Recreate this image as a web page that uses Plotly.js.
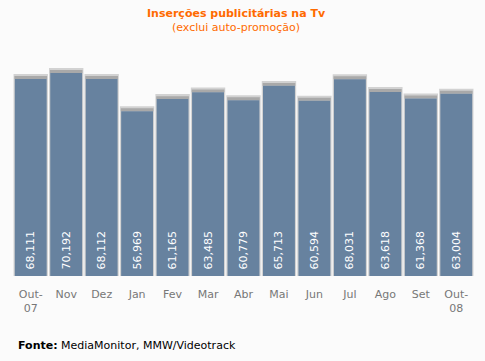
<!DOCTYPE html>
<html><head><meta charset="utf-8">
<script src="https://cdn.plot.ly/plotly-3.0.1.min.js"></script>
<style>html,body{margin:0;padding:0;background:#fbfbfb;}</style>
</head><body>
<div id="chart" style="width:485px;height:361px;"></div>
<script>
const months = ["Out-<br>07","Nov","Dez","Jan","Fev","Mar","Abr","Mai","Jun","Jul","Ago","Set","Out-<br>08"];
const insercoes = [68111,70192,68112,56969,61165,63485,60779,65713,60594,68031,63618,61368,63004];
const titleText = "Inserções publicitárias na Tv";
const subtitleText = "(exclui auto-promoção)";
const sourceText = "<b>Fonte:</b> MediaMonitor, MMW/Videotrack";

const font = "DejaVu Sans, Verdana, sans-serif";
const shadow = insercoes.map(v => v + 1700);
const capHeight = insercoes.map(() => 1000);

const traces = [
  {type:'bar', x:months, y:shadow, width:0.97, marker:{color:'#d2d2d2'}, hoverinfo:'skip', showlegend:false},
  {type:'bar', x:months, y:capHeight, base:insercoes, width:0.92, marker:{color:'#a9a9a9'}, hoverinfo:'skip', showlegend:false},
  {type:'bar', x:months, y:insercoes, width:0.9, marker:{color:'#67829f'},
   texttemplate:'\u00a0%{y:,}', textposition:'inside', insidetextanchor:'start', textangle:-90,
   textfont:{family:font, size:11, color:'#ffffff'}, cliponaxis:false, showlegend:false}
];
const layout = {
  width:485, height:361,
  paper_bgcolor:'#fbfbfb', plot_bgcolor:'#fbfbfb',
  margin:{l:13, r:11, t:58.5, b:85},
  barmode:'overlay',
  font:{family:font},
  xaxis:{type:'category', showgrid:false, zeroline:false, showline:false, ticks:'',
         ticklabelstandoff:10,
         tickfont:{family:font, size:11, color:'#777777'}, range:[-0.5,12.5]},
  yaxis:{range:[0,75000], visible:false, showgrid:false, zeroline:false},
  annotations:[
    {text:'<b>'+titleText+'</b>', xref:'paper', yref:'paper', x:0.484, y:1+45.5/217.5, yanchor:'middle', xanchor:'center', showarrow:false, font:{family:font, size:11, color:'#ff6a00'}},
    {text:subtitleText, xref:'paper', yref:'paper', x:0.484, y:1+31.5/217.5, yanchor:'middle', xanchor:'center', showarrow:false, font:{family:font, size:11, color:'#ff6a00'}},
    {text:sourceText, xref:'paper', yref:'paper', x:3/461, y:-70/217.5, yanchor:'middle', xanchor:'left', showarrow:false, font:{family:font, size:11, color:'#000000'}}
  ]
};
Plotly.newPlot('chart', traces, layout, {displayModeBar:false, staticPlot:true});
</script>
</body></html>
